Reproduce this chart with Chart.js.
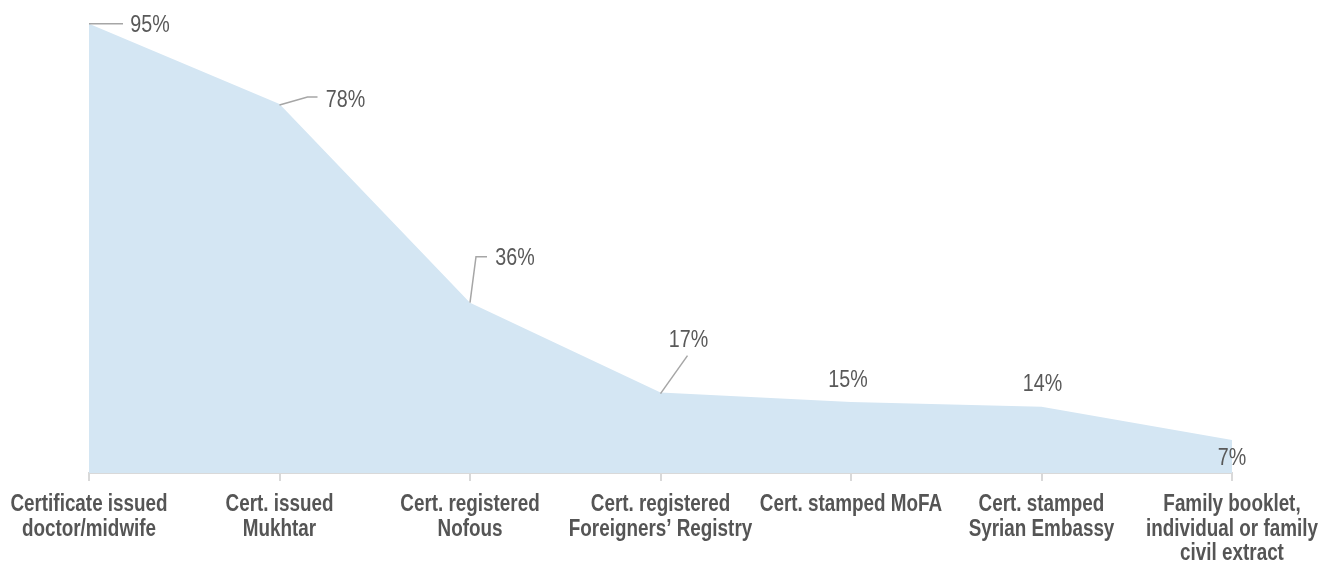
<!DOCTYPE html>
<html>
<head>
<meta charset="utf-8">
<script src="https://cdn.jsdelivr.net/npm/chart.js@4"></script>
<style>
  body { margin: 0; background: #fff; }
  .wrap { width: 1323px; height: 566px; }
</style>
</head>
<body>
<div class="wrap"><canvas id="stepsChart"></canvas></div>
<script>
const steps = [
  ["Certificate issued", "doctor/midwife"],
  ["Cert. issued", "Mukhtar"],
  ["Cert. registered", "Nofous"],
  ["Cert. registered", "Foreigners’ Registry"],
  ["Cert. stamped MoFA"],
  ["Cert. stamped", "Syrian Embassy"],
  ["Family booklet,", "individual or family", "civil extract"],
];
const shares = [95, 78, 36, 17, 15, 14, 7];

// where each % label sits, relative to its point (px), and its leader line
const labelOffsets = [[61, 2], [66, -4], [45, -44], [28, -52], [-3, -22], [1, -22], [0, 18]];
const leaders = [
  [[0, 0], [34, 0]],
  [[0, 1], [28, -7], [38, -7]],
  [[0, 0], [6, -46], [17, -46]],
  [[0, 1], [27, -37]],
  null,
  null,
  null,
];

const FONT = "'Liberation Sans', Arial, sans-serif";
const SQUEEZE = 0.82; // fake a condensed face

function narrowText(ctx, text, x, y) {
  ctx.save();
  ctx.translate(x, y);
  ctx.scale(SQUEEZE, 1);
  ctx.fillText(text, 0, 0);
  ctx.restore();
}

const textLayer = {
  id: "textLayer",
  afterDatasetsDraw(chart) {
    const ctx = chart.ctx;
    const pts = chart.getDatasetMeta(0).data;
    ctx.save();
    ctx.textAlign = "center";
    ctx.textBaseline = "middle";
    ctx.fillStyle = "#595959";

    // value labels
    pts.forEach((p, i) => {
      const lead = leaders[i];
      if (lead) {
        ctx.strokeStyle = "#a6a6a6";
        ctx.lineWidth = 1.5;
        ctx.beginPath();
        lead.forEach(([dx, dy], k) => {
          if (k === 0) ctx.moveTo(p.x + dx, p.y + dy);
          else ctx.lineTo(p.x + dx, p.y + dy);
        });
        ctx.stroke();
      }
      ctx.font = "24px " + FONT;
      const [ox, oy] = labelOffsets[i];
      narrowText(ctx, shares[i] + "%", p.x + ox, p.y + oy);
    });

    // category labels under the axis
    const xScale = chart.scales.x;
    ctx.font = "bold 23px " + FONT;
    ctx.fillStyle = "#555555";
    steps.forEach((lines, i) => {
      const x = xScale.getPixelForTick(i);
      lines.forEach((line, k) => {
        narrowText(ctx, line, x, xScale.top + 32 + k * 24.5);
      });
    });
    ctx.restore();
  },
};

const ctx = document.getElementById("stepsChart").getContext("2d");
const stepsChart = new Chart(ctx, {
  type: "line",
  data: {
    labels: steps.map((s) => s.join(" ")),
    datasets: [
      {
        data: shares,
        fill: "origin",
        backgroundColor: "rgb(212,230,243)",
        borderWidth: 0,
        pointRadius: 0,
        tension: 0,
      },
    ],
  },
  options: {
    responsive: true,
    maintainAspectRatio: false,
    animation: false,
    layout: {
      padding: { left: 89, right: 91, top: 0, bottom: 85 },
    },
    plugins: {
      legend: { display: false },
      tooltip: { enabled: false },
    },
    scales: {
      x: {
        offset: false,
        border: { color: "#d9d9d9", width: 2 },
        grid: {
          drawOnChartArea: false,
          drawTicks: true,
          tickLength: 8,
          color: "#d9d9d9",
          lineWidth: 2,
        },
        ticks: { display: false },
      },
      y: {
        display: false,
        min: 0,
        max: 100,
      },
    },
  },
  plugins: [textLayer],
});
</script>
</body>
</html>
